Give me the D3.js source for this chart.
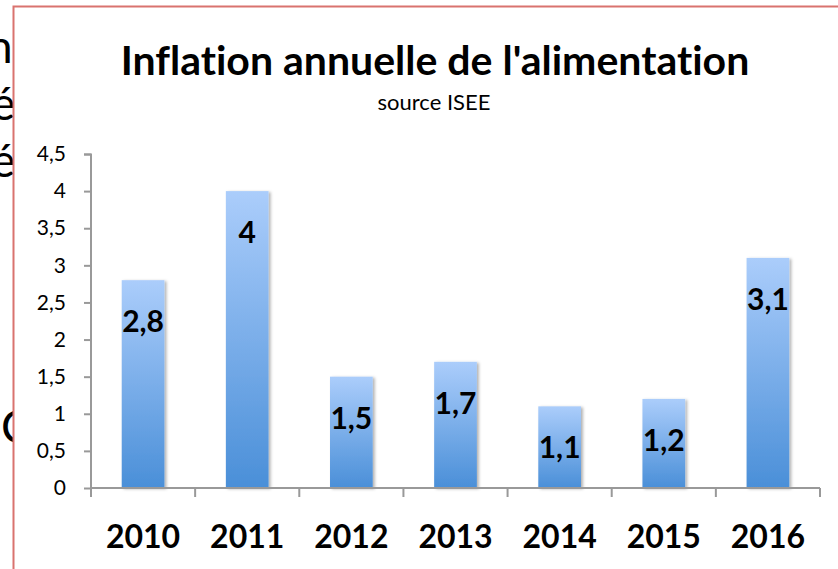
<!DOCTYPE html>
<html>
<head>
<meta charset="utf-8">
<script src="https://cdn.jsdelivr.net/npm/d3@7"></script>
<style>
  html, body { margin: 0; padding: 0; background: #fff; }
  svg { display: block; font-family: Lato, "Open Sans", sans-serif; font-variant-ligatures: none; }
</style>
</head>
<body>
<div class="container"></div>
<script>
// data
const years = ["2010", "2011", "2012", "2013", "2014", "2015", "2016"];
const inflation = [2.8, 4, 1.5, 1.7, 1.1, 1.2, 3.1];
const yTicks = [0, 0.5, 1, 1.5, 2, 2.5, 3, 3.5, 4, 4.5];

// bits of page text showing behind the chart frame
const behindText = ["n", "é", "é", "C"];
const behindY = [63, 120, 177, 443];
const behindX = [-13, -9, -9, 1];

const W = 838, H = 569;
const margin = { top: 154, right: 18, bottom: 81, left: 91 };
const width = W - margin.left - margin.right,
      height = H - margin.top - margin.bottom;

const fmt = d => String(d).replace(".", ",");

const svg = d3.select(".container")
    .append("svg")
    .attr("width", W)
    .attr("height", H);

const defs = svg.append("defs");

const grad = defs.append("linearGradient")
    .attr("id", "barGrad")
    .attr("x1", 0).attr("y1", 0)
    .attr("x2", 0).attr("y2", 1);
grad.append("stop").attr("offset", "0%").attr("stop-color", "#abcdfb");
grad.append("stop").attr("offset", "100%").attr("stop-color", "#4a8fd8");

defs.append("filter")
    .attr("id", "shadow")
    .attr("x", "-20%").attr("y", "-20%")
    .attr("width", "150%").attr("height", "150%")
    .append("feDropShadow")
    .attr("dx", 2).attr("dy", 1)
    .attr("stdDeviation", 1.5)
    .attr("flood-color", "#000")
    .attr("flood-opacity", 0.3);

// background page text, then the chart frame covering it
svg.selectAll("text.behind")
    .data(behindText)
    .enter()
    .append("text")
    .attr("class", "behind")
    .attr("x", (d, i) => behindX[i])
    .attr("y", (d, i) => behindY[i])
    .style("font-size", "46px")
    .style("fill", "#000")
    .text(d => d);

svg.append("rect")
    .attr("x", 13.5)
    .attr("y", 6.5)
    .attr("width", W)
    .attr("height", H)
    .attr("fill", "#fff")
    .attr("stroke", "#d9736f")
    .attr("stroke-width", 2);

// titles
svg.append("text")
    .attr("x", 435)
    .attr("y", 75)
    .attr("text-anchor", "middle")
    .style("font-size", "41px")
    .style("font-weight", "bold")
    .text("Inflation annuelle de l'alimentation");

svg.append("text")
    .attr("x", 434)
    .attr("y", 110)
    .attr("text-anchor", "middle")
    .style("font-size", "22px")
    .text("source ISEE");

const canvas = svg.append("g")
    .attr("transform", `translate(${margin.left}, ${margin.top})`);

const x = d3.scaleBand()
    .domain(years)
    .range([0, width])
    .paddingInner(0.59)
    .paddingOuter(0.295);

const y = d3.scaleLinear()
    .domain([0, 4.5])
    .range([height, 0]);

// bars
canvas.selectAll("rect.bar")
    .data(inflation)
    .enter()
    .append("rect")
    .attr("class", "bar")
    .attr("x", (d, i) => x(years[i]))
    .attr("y", d => y(d))
    .attr("width", x.bandwidth())
    .attr("height", d => height - y(d))
    .attr("fill", "url(#barGrad)")
    .attr("filter", "url(#shadow)");

// axes
const yAxis = d3.axisLeft(y)
    .tickValues(yTicks)
    .tickFormat(fmt)
    .tickSize(7)
    .tickPadding(18);

const gy = canvas.append("g").call(yAxis);
gy.select(".domain").attr("stroke", "#999").attr("stroke-width", 2).attr("d", `M-7,0.5H0V${height}`);
gy.selectAll(".tick line").attr("stroke", "#999").attr("stroke-width", 2);
gy.selectAll(".tick text")
    .style("font-size", "21px")
    .style("font-family", "Lato, sans-serif")
    .attr("fill", "#000");

// x axis: ticks on band boundaries
const boundaries = d3.range(years.length + 1).map(i => i * x.step());
const gx = canvas.append("g").attr("transform", `translate(0, ${height})`);
gx.append("line")
    .attr("x1", 0).attr("x2", width)
    .attr("stroke", "#999").attr("stroke-width", 2);
gx.selectAll("line.tk")
    .data(boundaries)
    .enter()
    .append("line")
    .attr("class", "tk")
    .attr("x1", d => d).attr("x2", d => d)
    .attr("y1", 0).attr("y2", 9)
    .attr("stroke", "#999").attr("stroke-width", 2);
gx.selectAll("text")
    .data(years)
    .enter()
    .append("text")
    .attr("x", d => x(d) + x.bandwidth() / 2)
    .attr("y", 60)
    .attr("text-anchor", "middle")
    .style("font-size", "32px")
    .style("font-weight", "bold")
    .text(d => d);

// value labels inside the top of each bar
canvas.selectAll("text.val")
    .data(inflation)
    .enter()
    .append("text")
    .attr("class", "val")
    .attr("x", (d, i) => x(years[i]) + x.bandwidth() / 2)
    .attr("y", d => y(d) + 52)
    .attr("text-anchor", "middle")
    .style("font-size", "30px")
    .style("font-weight", "bold")
    .text(fmt);
</script>
</body>
</html>
